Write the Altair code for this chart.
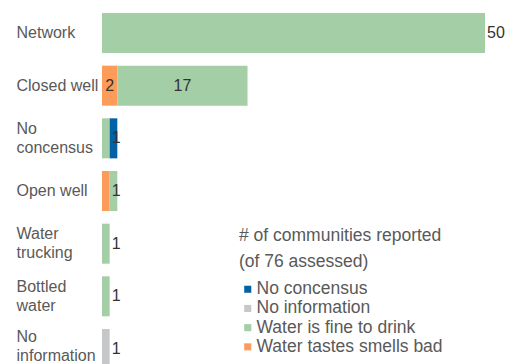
import altair as alt
import pandas as pd

categories = ["Network", "Closed well", "No concensus", "Open well",
              "Water trucking", "Bottled water", "No information"]
legend_order = ["No concensus", "No information", "Water is fine to drink", "Water tastes smells bad"]
colors = ["#0461a6", "#c6c7c9", "#a4cea5", "#fd9b5a"]

# segments: (source, status, value, label placement)
seg_source = ["Network", "Closed well", "Closed well", "No concensus", "No concensus",
              "Open well", "Open well", "Water trucking", "Bottled water", "No information"]
seg_status = ["Water is fine to drink", "Water tastes smells bad", "Water is fine to drink",
              "Water is fine to drink", "No concensus",
              "Water tastes smells bad", "Water is fine to drink",
              "Water is fine to drink", "Water is fine to drink", "No information"]
seg_value = [50, 2, 17, 1, 1, 1, 1, 1, 1, 1]
seg_order = [1, 0, 1, 0, 1, 0, 1, 0, 0, 0]
seg_label = ["end", "center", "center", "end", "none", "end", "none", "end", "end", "end"]

df = pd.DataFrame({
    "source": seg_source, "status": seg_status, "value": seg_value,
    "ord": seg_order, "lab": seg_label,
})

base = alt.Chart(df).transform_window(
    cum="sum(value)", groupby=["source"], sort=[alt.SortField("ord")],
    frame=[None, 0]
).transform_calculate(
    start="datum.cum - datum.value",
    mid="datum.cum - datum.value / 2",
)

FONT = "Liberation Sans"
two_line = "indexof(['No concensus','Water trucking','Bottled water'], datum.value) >= 0"

yenc = alt.Y("source:N", sort=categories, title=None,
             scale=alt.Scale(paddingInner=0.24, paddingOuter=0.095, range=[0, 366]),
             axis=alt.Axis(labelAlign="left", labelPadding=86, ticks=False, domain=False,
                           labelFontSize=16, labelColor="#595959", labelFont=FONT,
                           labelLimit=200, labelLineHeight=19,
                           labelOffset={"condition": [
                               {"test": two_line, "value": -9.5},
                               {"test": "datum.value == 'No information'", "value": -11.5}],
                               "value": 0},
                           labelExpr="split(replace(replace(replace(replace(datum.value,'No concensus','No|concensus'),'Water trucking','Water|trucking'),'Bottled water','Bottled|water'),'No information','No|information'),'|')"))

bars = base.mark_bar().encode(
    y=yenc,
    x=alt.X("start:Q", scale=alt.Scale(domain=[0, 50], nice=False), axis=None),
    x2="cum:Q",
    color=alt.Color("status:N", scale=alt.Scale(domain=legend_order, range=colors),
                    legend=alt.Legend(
                        title=["# of communities reported", "(of 76 assessed)"],
                        orient="none", legendX=137, legendY=219,
                        titleFontSize=17.5, titleFontWeight="normal", titleColor="#595959",
                        titleFont=FONT, titleLineHeight=26, titlePadding=10, titleLimit=400,
                        labelFontSize=17.5, labelColor="#595959", labelFont=FONT, labelLimit=400,
                        symbolType="square", symbolSize=50, symbolStrokeWidth=0,
                        symbolOffset=0, labelOffset=0, rowPadding=0.2)),
)

text_center = base.transform_filter("datum.lab == 'center'").mark_text(
    fontSize=16, color="#333333", font=FONT, align="center", baseline="middle"
).encode(y=alt.Y("source:N", sort=categories), x=alt.X("mid:Q"), text="value:Q")

text_end = base.transform_filter("datum.lab == 'end'").mark_text(
    fontSize=16, color="#333333", font=FONT, align="left", baseline="middle", dx=2
).encode(y=alt.Y("source:N", sort=categories), x=alt.X("cum:Q"), text="value:Q")

chart = alt.layer(bars, text_center, text_end).properties(
    width=383, height=356,
    autosize=alt.AutoSizeParams(type="none"),
    padding={"left": 94, "top": 0, "right": 20, "bottom": 0},
).configure_view(stroke=None)

chart.save("out.html", embed_options={"renderer": "svg", "actions": False})
